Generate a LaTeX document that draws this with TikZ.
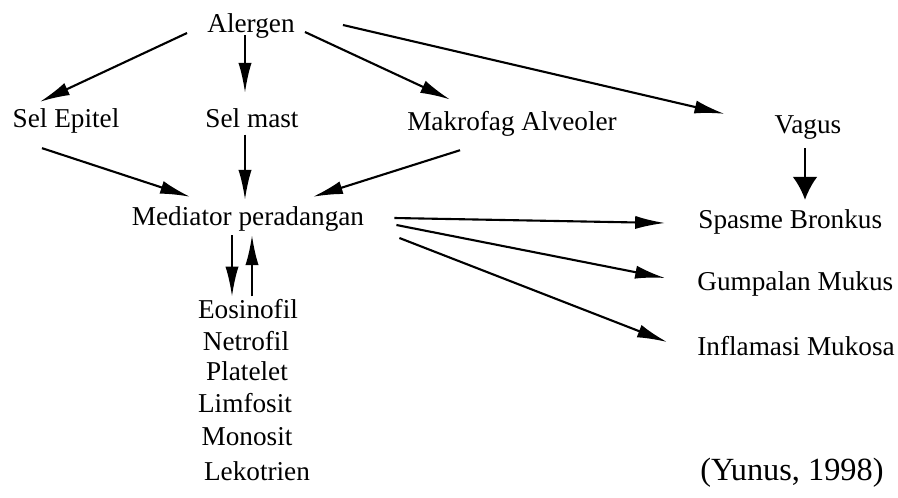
\documentclass[tikz,border=0pt]{standalone}
\usepackage{fontspec}
\setmainfont{Liberation Serif}
\usetikzlibrary{positioning,calc,arrows.meta}

\begin{document}
\begin{tikzpicture}[
    x=0.02cm, y=-0.02cm,
    lbl/.style={font=\fontsize{15.5}{18}\selectfont, inner sep=0pt, anchor=base},
    lblleft/.style={lbl, anchor=base west},
    arr/.style={line width=1.2pt, -{Latex[length=17pt,width=7.5pt]}},
    bigarr/.style={line width=1.2pt, -{Latex[length=13pt,width=14pt]}}
]
\useasboundingbox (0,0) rectangle (898,497);

% top row
\node[lbl] (alergen) at (251,32) {Alergen};
\node[lbl] (epitel) at (66,127) {Sel Epitel};
\node[lbl] (mast) at (252,127) {Sel mast};
\node[lbl] (makrofag) at (512,130) {Makrofag Alveoler};
\node[lbl] (vagus) at (808,133) {Vagus};
\node[lbl] (mediator) at (248,225) {Mediator peradangan};

% effects
\node[lblleft] (spasme) at (698,228) {Spasme Bronkus};
\node[lblleft] (gumpalan) at (697,290) {Gumpalan Mukus};
\node[lblleft] (inflamasi) at (697,355) {Inflamasi Mukosa};

% cells
\foreach \n/\x/\y/\t in {eos/248/318/Eosinofil, netro/246/350/Netrofil,
    plat/247/380/Platelet, limfo/245/412/Limfosit, mono/247/445/Monosit,
    leko/257/480/Lekotrien} {
    \node[lbl] (\n) at (\x,\y) {\t};
}

\node[lblleft, font=\fontsize{18.4}{22}\selectfont] (yunus) at (700,480) {(Yunus, 1998)};

% arrows from Alergen
\draw[arr] ($(alergen.base west)+(-20,1)$) -- ($(epitel.north)+(-26,-6)$);
\draw[arr] ($(alergen.base)+(-6,3)$) -- ($(mast.north)+(-7,-15)$);
\draw[arr] ($(alergen.base east)+(10,0)$) -- ($(makrofag.north)+(-62,-11)$);
\draw[arr] ($(alergen.base east)+(48,-7)$) -- ($(vagus.north west)+(-50,-1)$);

% into Mediator
\draw[arr] ($(epitel.south)+(-24,15)$) -- ($(mediator.north)+(-58,-9)$);
\draw[arr] ($(mast.south)+(-7,7)$) -- ($(mediator.north)+(-3,-6)$);
\draw[arr] ($(makrofag.south)+(-52,14)$) -- ($(mediator.north)+(65,-9)$);

\draw[bigarr] ($(vagus.south)+(-3,9)$) -- ($(vagus.south |- spasme.north)+(-3,-9)$);

% out of Mediator
\draw[arr] ($(mediator.base east)+(30,-7)$) -- ($(spasme.base west)+(-33,-5)$);
\draw[arr] ($(mediator.base east)+(32,0)$) -- ($(gumpalan.base west)+(-32,-12)$);
\draw[arr] ($(mediator.base east)+(35,13)$) -- ($(inflamasi.base west)+(-30,-13)$);

\draw[arr] ($(mediator.south)+(-16,4)$) -- ($(eos.north)+(-16,-2)$);
\draw[arr] ($(eos.north)+(4,-2)$) -- ($(mediator.south)+(4,4)$);

\end{tikzpicture}
\end{document}
